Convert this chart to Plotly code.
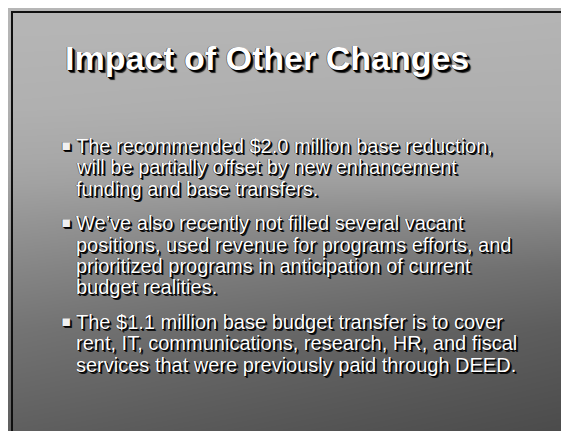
import plotly.graph_objects as go

W, H = 569, 431

title_text = "Impact of Other Changes"
bullets = [
    ["The recommended $2.0 million base reduction,",
     "will be partially offset by new enhancement",
     "funding and base transfers."],
    ["We’ve also recently not filled several vacant",
     "positions, used revenue for programs efforts, and",
     "prioritized programs in anticipation of current",
     "budget realities."],
    ["The $1.1 million base budget transfer is to cover",
     "rent, IT, communications, research, HR, and fiscal",
     "services that were previously paid through DEED."],
]

# background shading grid (gray levels)
bg_x = [4, 280, 566]
bg_y = [4, 100, 150, 175, 210, 260, 320, 428]
bg_z = [
    [182, 182, 180],
    [176, 174, 174],
    [168, 166, 166],
    [162, 158, 158],
    [150, 140, 134],
    [134, 122, 110],
    [116, 104, 92],
    [94, 84, 74],
]

fig = go.Figure()
fig.add_trace(go.Heatmap(
    x=bg_x, y=bg_y, z=bg_z, zsmooth="best",
    colorscale=[[0, "rgb(0,0,0)"], [1, "rgb(255,255,255)"]],
    zmin=0, zmax=255, showscale=False, hoverinfo="skip",
))

font_family = "Arial, Liberation Sans, sans-serif"
shadow = "1px 1px 0px #000, 2px 2px 0px #111, -0.5px -0.5px 0px #333"

annotations = []
annotations.append(dict(
    x=259, y=50, xref="x", yref="y", text=title_text, showarrow=False,
    xanchor="center", yanchor="middle",
    font=dict(family=font_family, size=34, color="white", weight="bold",
              shadow="1px 1px 0px #000, 2px 2px 0px #000, 3px 3px 1px #222, -0.5px -0.5px 0px #333"),
))

line_step = 21.3
para_gap = 13.5
base0 = 138
idx = 0
for p, lines in enumerate(bullets):
    for j, line in enumerate(lines):
        yc = base0 + idx * line_step + p * para_gap
        if j == 0:
            annotations.append(dict(
                x=51, y=yc - 1, xref="x", yref="y", text="▪",
                showarrow=False, xanchor="left", yanchor="middle",
                font=dict(family="DejaVu Sans", size=15, color="#f0f0f0",
                          shadow=shadow),
            ))
        annotations.append(dict(
            x=66, y=yc, xref="x", yref="y", text=line,
            showarrow=False, xanchor="left", yanchor="middle",
            font=dict(family=font_family, size=20, color="white",
                      shadow=shadow),
        ))
        idx += 1

fig.update_layout(
    width=W, height=H,
    margin=dict(l=0, r=0, t=0, b=0),
    paper_bgcolor="#dcdcdc", plot_bgcolor="#dcdcdc",
    xaxis=dict(range=[0, W], visible=False, fixedrange=True),
    yaxis=dict(range=[H, 0], visible=False, fixedrange=True),
    annotations=annotations,
    shapes=[dict(type="rect", xref="x", yref="y", x0=4, y0=4, x1=566, y1=428,
                 line=dict(color="#101010", width=2))],
    showlegend=False,
)

fig.write_html("out.html", config={"displayModeBar": False})
